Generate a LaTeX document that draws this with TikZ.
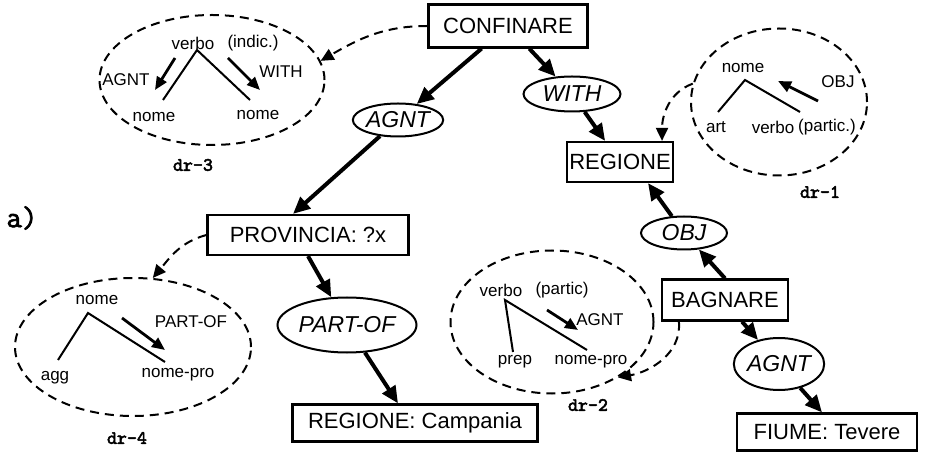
\documentclass[tikz,border=0pt]{standalone}
\usepackage{fontspec}
\setmainfont{Liberation Sans}
\newfontfamily\tagfont[FakeBold=2.5]{Latin Modern Mono}
\usetikzlibrary{arrows.meta,shapes.geometric}

\tikzset{
  concept/.style={draw, line width=1.1pt, inner sep=0pt, minimum height=20pt, font=\fontsize{11}{13}\selectfont},
  rel/.style={draw, ellipse, line width=1pt, inner sep=0pt, font=\fontsize{11.5}{13}\selectfont\itshape},
  dr/.style={draw, ellipse, line width=1pt, dash pattern=on 4.5pt off 3pt, inner sep=0pt},
  word/.style={inner sep=0pt, font=\fontsize{8.5}{10}\selectfont},
  tag/.style={inner sep=0pt, font=\fontsize{9.5}{11}\selectfont\tagfont},
  link/.style={line width=2pt, -{Triangle[length=8.5pt,width=7.5pt]}},
  hint/.style={line width=1pt, dash pattern=on 4.5pt off 3pt, -{Triangle[length=6.5pt,width=6pt]}},
  branch/.style={line width=1pt},
  role/.style={line width=1.4pt, -{Triangle[length=6.5pt,width=5.5pt]}},
}

\begin{document}
\begin{tikzpicture}[x=0.5pt, y=-0.5pt]
  \useasboundingbox (0,0) rectangle (929,458);

  \node (part) at (22,218) [tag, font=\fontsize{15}{17}\selectfont\tagfont] {a)};

  % concepts
  \node (conf) at (508,26) [concept, minimum width=79.5pt, minimum height=21.5pt] {CONFINARE};
  \node (reg) at (620,162) [concept, minimum width=53pt] {REGIONE};
  \node (prov) at (308,235) [concept, minimum width=100.5pt] {PROVINCIA: ?x};
  \node (camp) at (415,423) [concept, minimum width=122.5pt, minimum height=18.5pt] {REGIONE: Campania};
  \node (bag) at (725,300) [concept, minimum width=63pt, minimum height=20.5pt] {BAGNARE};
  \node (fiume) at (827,432) [concept, minimum width=90pt, minimum height=18.5pt] {FIUME: Tevere};

  % relations
  \node (agnt) at (398,120) [rel, minimum width=44.5pt, minimum height=16.5pt] {AGNT};
  \node (with) at (572,94) [rel, minimum width=48.5pt, minimum height=17.5pt] {WITH};
  \node (partof) at (347,325) [rel, minimum width=69.5pt, minimum height=27.5pt] {PART-OF};
  \node (obj) at (684,233) [rel, minimum width=43pt, minimum height=16.5pt] {OBJ};
  \node (agnt2) at (779,364) [rel, minimum width=44pt, minimum height=26pt] {AGNT};

  \draw[link] (conf) -- (agnt);
  \draw[link] (conf) -- (with);
  \draw[link] (with) -- (reg);
  \draw[link] (agnt) -- ([xshift=-7.5pt]prov.north);
  \draw[link] (prov.south) -- (partof);
  \draw[link] (partof) -- ([xshift=-8.5pt]camp.north);
  \draw[link] (bag.north) -- (obj);
  \draw[link] (obj) -- ([xshift=14pt]reg.south);
  \draw[link] ([xshift=8.5pt]bag.south) -- (agnt2);
  \draw[link] (agnt2) -- ([xshift=-2.5pt]fiume.north);

  % derivation rules
  \node (dr3) at (212,80) [dr, minimum width=112.5pt, minimum height=65pt] {};
  \node (dr4) at (133,347) [dr, minimum width=118pt, minimum height=69pt] {};
  \node (dr2) at (552,322) [dr, minimum width=101.5pt, minimum height=71.5pt] {};
  \node (dr1) at (779,102) [dr, minimum width=88pt, minimum height=73.5pt] {};
  \node (dr3lab) at (193,165) [tag] {dr-3};
  \node (dr4lab) at (127,438) [tag] {dr-4};
  \node (dr2lab) at (588,405) [tag] {dr-2};
  \node (dr1lab) at (820,192) [tag] {dr-1};

  \draw[hint] (conf.west) to[out=180, in=30] (dr3.10);
  \draw[hint] (prov.west) to[out=195, in=50] (dr4.74);
  \draw[hint] (dr1.168) to[out=200, in=90] ([xshift=21pt]reg.north);
  \draw[hint] ([xshift=9pt]bag.south west) to[out=-85, in=10] (dr2.-40);

  % dr-3
  \node[word] (v3) at (193,43) {verbo};
  \node[word] (i3) at (253,43) {(indic.)};
  \node[word] (n3a) at (154,117) {nome};
  \node[word] (n3b) at (258,115) {nome};
  \node[word] (g3a) at (126,80) {AGNT};
  \node[word] (g3b) at (281,72) {WITH};
  \coordinate (t3) at (197,50);
  \coordinate (t3a) at (163,100);
  \coordinate (t3b) at (250,100);
  \draw[branch] (t3a) -- (t3) -- (t3b);
  \coordinate (r3a) at (175,58);
  \coordinate (r3b) at (155,90);
  \coordinate (r3c) at (228,58);
  \coordinate (r3d) at (260,90);
  \draw[role] (r3a) -- (r3b);
  \draw[role] (r3c) -- (r3d);

  % dr-4
  \node[word] (v4) at (97,300) {nome};
  \node[word] (n4a) at (55,378) {agg};
  \node[word] (n4b) at (178,375) {nome-pro};
  \node[word] (g4) at (191,322) {PART-OF};
  \coordinate (t4) at (88,313);
  \coordinate (t4a) at (58,360);
  \coordinate (t4b) at (165,362);
  \draw[branch] (t4a) -- (t4) -- (t4b);
  \coordinate (r4a) at (122,318);
  \coordinate (r4b) at (165,350);
  \draw[role] (r4a) -- (r4b);

  % dr-2
  \node[word] (v2) at (501,290) {verbo};
  \node[word] (i2) at (562,290) {(partic)};
  \node[word] (n2a) at (515,362) {prep};
  \node[word] (n2b) at (591,362) {nome-pro};
  \node[word] (g2) at (600,320) {AGNT};
  \coordinate (t2) at (505,300);
  \coordinate (t2a) at (513,352);
  \coordinate (t2b) at (587,350);
  \draw[branch] (t2a) -- (t2) -- (t2b);
  \coordinate (r2a) at (547,310);
  \coordinate (r2b) at (578,330);
  \draw[role] (r2a) -- (r2b);

  % dr-1
  \node[word] (v1) at (743,68) {nome};
  \node[word] (n1a) at (716,127) {art};
  \node[word] (n1b) at (773,127) {verbo};
  \node[word] (i1) at (827,127) {(partic.)};
  \node[word] (g1) at (838,82) {OBJ};
  \coordinate (t1) at (745,80);
  \coordinate (t1a) at (718,112);
  \coordinate (t1b) at (800,112);
  \draw[branch] (t1a) -- (t1) -- (t1b);
  \coordinate (r1a) at (818,101);
  \coordinate (r1b) at (778,81);
  \draw[role] (r1a) -- (r1b);
\end{tikzpicture}
\end{document}
